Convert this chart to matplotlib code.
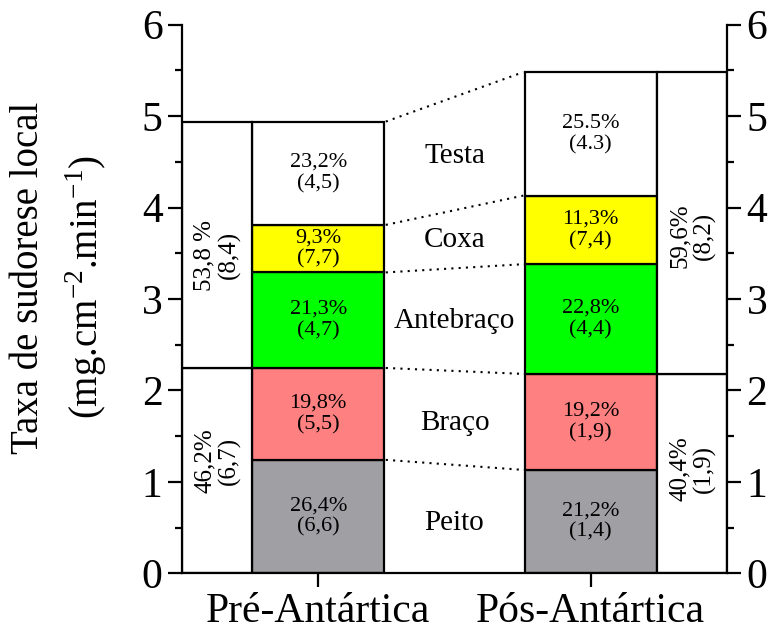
import matplotlib as mb
mb.rcParams['font.family'] = 'Liberation Serif'
mb.rcParams['mathtext.fontset'] = 'custom'
mb.rcParams['mathtext.rm'] = 'Liberation Serif'
import matplotlib.pyplot as plt
import numpy as np

# local sweat rate per body site (mg.cm-2.min-1), stacked bottom to top
grupos = ['Pré-Antártica', 'Pós-Antártica']
regioes = ['Peito', 'Braço', 'Antebraço', 'Coxa', 'Testa']
pre = [1.24, 1.005, 1.045, 0.52, 1.13]
pos = [1.13, 1.05, 1.20, 0.75, 1.35]

rotulos_pre = ['26,4%\n(6,6)', '19,8%\n(5,5)', '21,3%\n(4,7)', '9,3%\n(7,7)', '23,2%\n(4,5)']
rotulos_pos = ['21,2%\n(1,4)', '19,2%\n(1,9)', '22,8%\n(4,4)', '11,3%\n(7,4)', '25.5%\n(4.3)']

# lower body (peito + braco) vs upper (antebraco + coxa + testa)
rotulos_inf = ['46,2%\n(6,7)', '40,4%\n(1,9)']
rotulos_sup = ['53,8 %\n(8,4)', '59,6%\n(8,2)']

cores = ['#a0a0a4', '#ff8080', '#00ff00', '#ffff00', '#ffffff']

fig = plt.figure(figsize=(7.71, 6.32), dpi=100)
ax = fig.add_axes([0.236, 0.093, 0.707, 0.868])

w = 0.486
ow = 0.5 - w / 2
x = np.array([0, 1])

for xi, vals, labs in [(0, pre, rotulos_pre), (1, pos, rotulos_pos)]:
    base = 0
    for v, c, t in zip(vals, cores, labs):
        ax.bar(xi, v, w, bottom=base, color=c, edgecolor='k', linewidth=1.6, zorder=2)
        ax.text(xi, base + v / 2, t, ha='center', va='center', fontsize=16,
                linespacing=1.15, zorder=3)
        base += v

# side bars for lower / upper sums
outer_x = [-w / 2 - ow / 2, 1 + w / 2 + ow / 2]
y_inf = [1.23, 1.14]
y_sup = [3.48, 3.69]
for i, vals in enumerate([pre, pos]):
    inf = sum(vals[:2])
    sup = sum(vals[2:])
    ax.bar(outer_x[i], inf, ow, color='w', edgecolor='k', linewidth=1.6, zorder=2)
    ax.bar(outer_x[i], sup, ow, bottom=inf, color='w', edgecolor='k', linewidth=1.6, zorder=2)
    ax.text(outer_x[i], y_inf[i], rotulos_inf[i], rotation=90, ha='center', va='center',
            fontsize=18, linespacing=1.1)
    ax.text(outer_x[i], y_sup[i], rotulos_sup[i], rotation=90, ha='center', va='center',
            fontsize=18, linespacing=1.1)

# dotted lines joining the segment tops, plus region names
cpre = np.cumsum(pre)
cpos = np.cumsum(pos)
for a, b in zip(cpre, cpos):
    ax.plot([w / 2 + 0.005, 1 - w / 2 - 0.005], [a, b], color='k', lw=1.5,
            ls=(0, (1, 2.5)), zorder=1)
y_reg = [0.55, 1.64, 2.76, 3.64, 4.56]
for r, yr in zip(regioes, y_reg):
    ax.text(0.5, yr, r, ha='center', va='center', fontsize=21)

ax.set_xlim(-0.5, 1.5)
ax.set_ylim(0, 6)
ax.set_xticks(x)
ax.set_xticklabels(grupos, fontsize=30)
ax.set_yticks(range(7))
ax.set_yticks(np.arange(0.5, 6, 1), minor=True)
ax.tick_params(axis='y', which='both', left=True, right=True, labelleft=True,
               labelright=True, labelsize=30, width=1.6, direction='out', pad=4)
ax.tick_params(axis='y', which='major', length=10)
ax.tick_params(axis='y', which='minor', length=5)
ax.tick_params(axis='x', length=10, width=1.6, pad=4)
ax.spines['top'].set_visible(False)
for s in ['left', 'right', 'bottom']:
    ax.spines[s].set_linewidth(1.6)

fig.text(0.0376, 0.560, 'Taxa de sudorese local', rotation=90, ha='center',
         va='center', fontsize=28)
fig.text(0.1115, 0.546, '(mg.cm$^{-2}$.min$^{-1}$)', rotation=90, ha='center',
         va='center', fontsize=28)

plt.savefig('out.png')
